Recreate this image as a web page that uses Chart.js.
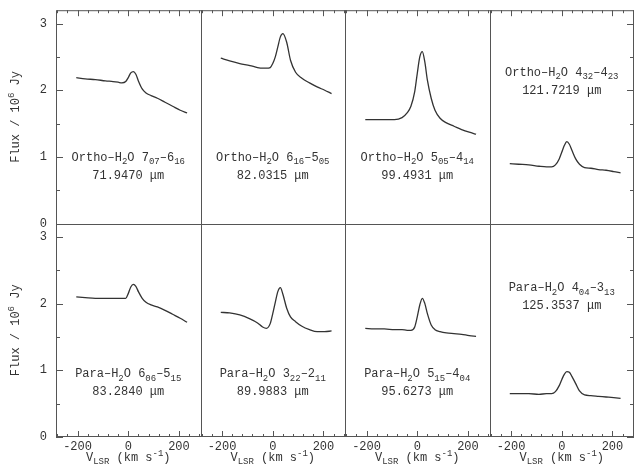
<!DOCTYPE html>
<html>
<head>
<meta charset="utf-8">
<script src="https://cdn.jsdelivr.net/npm/chart.js@4.4.1/dist/chart.umd.min.js"></script>
<style>
html, body { margin: 0; padding: 0; background: #fff; }
#wrap { width: 636px; height: 470px; }
</style>
</head>
<body>
<div id="wrap"><canvas id="profiles" width="636" height="470"></canvas></div>
<script>
// Velocity grid (km/s) shared by every line profile
const velocity = [-205, -170, -130, -90, -60, -40, -25, -10, 0, 10, 20, 30, 40, 55, 70, 90, 115, 145, 175, 205, 232];

// Flux / 10^6 Jy
const fluxO707 = [2.19, 2.17, 2.16, 2.14, 2.13, 2.12, 2.11, 2.13, 2.19, 2.26, 2.28, 2.24, 2.14, 2.02, 1.96, 1.92, 1.88, 1.82, 1.76, 1.70, 1.66];
const fluxO616 = [2.48, 2.44, 2.40, 2.37, 2.34, 2.33, 2.33, 2.34, 2.40, 2.50, 2.65, 2.80, 2.85, 2.72, 2.45, 2.27, 2.18, 2.11, 2.05, 2.00, 1.95];
const fluxO505 = [1.56, 1.56, 1.56, 1.56, 1.59, 1.66, 1.76, 1.98, 2.25, 2.50, 2.58, 2.42, 2.15, 1.88, 1.70, 1.58, 1.51, 1.46, 1.41, 1.37, 1.34];
const fluxO432 = [0.90, 0.89, 0.88, 0.86, 0.85, 0.85, 0.88, 0.97, 1.07, 1.17, 1.23, 1.19, 1.10, 0.97, 0.89, 0.84, 0.83, 0.81, 0.80, 0.78, 0.76];
const fluxP606 = [2.10, 2.09, 2.08, 2.08, 2.08, 2.08, 2.08, 2.08, 2.15, 2.25, 2.29, 2.26, 2.18, 2.08, 2.02, 1.98, 1.95, 1.90, 1.84, 1.78, 1.72];
const fluxP322 = [1.87, 1.86, 1.83, 1.77, 1.71, 1.65, 1.63, 1.70, 1.85, 2.02, 2.18, 2.24, 2.14, 1.93, 1.80, 1.73, 1.66, 1.61, 1.58, 1.58, 1.59];
const fluxP515 = [1.63, 1.62, 1.62, 1.61, 1.61, 1.60, 1.60, 1.65, 1.80, 1.98, 2.08, 2.00, 1.85, 1.68, 1.61, 1.58, 1.56, 1.55, 1.54, 1.52, 1.51];
const fluxP404 = [0.65, 0.65, 0.65, 0.64, 0.65, 0.65, 0.68, 0.77, 0.86, 0.94, 0.98, 0.97, 0.91, 0.80, 0.69, 0.63, 0.62, 0.61, 0.60, 0.59, 0.58];

// Line names (_{} subscript) and wavelengths
const lineNames = [
  'Ortho–H_{2}O 7_{07}–6_{16}', 'Ortho–H_{2}O 6_{16}–5_{05}', 'Ortho–H_{2}O 5_{05}–4_{14}', 'Ortho–H_{2}O 4_{32}–4_{23}',
  'Para–H_{2}O 6_{06}–5_{15}', 'Para–H_{2}O 3_{22}–2_{11}', 'Para–H_{2}O 5_{15}–4_{04}', 'Para–H_{2}O 4_{04}–3_{13}'
];
const wavelengths = ['71.9470 μm', '82.0315 μm', '99.4931 μm', '121.7219 μm', '83.2840 μm', '89.9883 μm', '95.6273 μm', '125.3537 μm'];
const fluxes = [fluxO707, fluxO616, fluxO505, fluxO432, fluxP606, fluxP322, fluxP515, fluxP404];

// Tick values
const velocityTicks = [-280, -240, -200, -160, -120, -80, -40, 0, 40, 80, 120, 160, 200, 240, 280];
const velocityLabels = [-200, 0, 200];
const fluxTicks = [0, 0.5, 1, 1.5, 2, 2.5, 3];

// Where the label pair sits in each panel (flux units of the first line)
const labelFlux = [0.98, 0.98, 0.98, 2.26, 0.94, 0.94, 0.94, 2.23];

const mono = '"Liberation Mono", "DejaVu Sans Mono", monospace';
const ink = '#333';
const fontSize = 12;

function drawRich(ctx, text, cx, cy, size) {
  const parts = [];
  const re = /([_^])\{([^}]*)\}|([^_^]+)/g;
  let m;
  while ((m = re.exec(text))) {
    if (m[3]) parts.push({ t: m[3], k: 0 });
    else parts.push({ t: m[2], k: m[1] === '_' ? 1 : 2 });
  }
  const fontFor = k => `${k ? Math.round(size * 0.72) : size}px ${mono}`;
  let w = 0;
  parts.forEach(p => { ctx.font = fontFor(p.k); p.w = ctx.measureText(p.t).width; w += p.w; });
  let x = cx - w / 2;
  ctx.textAlign = 'left';
  ctx.textBaseline = 'middle';
  parts.forEach(p => {
    ctx.font = fontFor(p.k);
    const dy = p.k === 1 ? size * 0.32 : p.k === 2 ? -size * 0.38 : 0;
    ctx.fillText(p.t, x, cy + dy);
    x += p.w;
  });
}

// Frame, inward ticks, panel labels and axis titles
const framePlugin = {
  id: 'frame',
  afterDraw(chart) {
    const { ctx, chartArea: a, scales } = chart;
    ctx.save();
    ctx.strokeStyle = '#555';
    ctx.lineWidth = 1;
    ctx.strokeRect(a.left + 0.5, a.top + 0.5, a.right - a.left - 1, a.bottom - a.top - 1);
    ctx.beginPath();
    for (let c = 1; c < 4; c++) {
      const x = Math.round(scales['x' + c].left) + 0.5;
      ctx.moveTo(x, a.top); ctx.lineTo(x, a.bottom);
    }
    const yMid = Math.round(scales.y0.bottom) + 0.5;
    ctx.moveTo(a.left, yMid); ctx.lineTo(a.right, yMid);
    ctx.stroke();

    // inward tick marks
    ctx.beginPath();
    for (let c = 0; c < 4; c++) {
      const s = scales['x' + c];
      velocityTicks.forEach(v => {
        const x = Math.round(s.getPixelForValue(v)) + 0.5;
        const len = velocityLabels.includes(v) ? 6 : 3;
        ctx.moveTo(x, a.top); ctx.lineTo(x, a.top + len);
        ctx.moveTo(x, a.bottom); ctx.lineTo(x, a.bottom - len);
      });
    }
    ['y0', 'y1'].forEach(id => {
      const s = scales[id];
      fluxTicks.forEach(v => {
        const y = Math.round(s.getPixelForValue(v)) + 0.5;
        const len = Number.isInteger(v) ? 7 : 4;
        ctx.moveTo(a.left, y); ctx.lineTo(a.left + len, y);
        ctx.moveTo(a.right, y); ctx.lineTo(a.right - len, y);
      });
    });
    ctx.stroke();

    // panel labels
    ctx.fillStyle = ink;
    for (let i = 0; i < 8; i++) {
      const xs = scales['x' + (i % 4)];
      const ys = scales['y' + Math.floor(i / 4)];
      const cx = xs.getPixelForValue(0);
      const cy = ys.getPixelForValue(labelFlux[i]);
      drawRich(ctx, lineNames[i], cx, cy, fontSize);
      drawRich(ctx, wavelengths[i], cx, cy + 18, fontSize);
    }

    // x titles
    for (let c = 0; c < 4; c++) {
      const xs = scales['x' + c];
      drawRich(ctx, 'V_{LSR} (km s^{-1})', xs.getPixelForValue(0), 458, fontSize);
    }
    // y titles
    ['y0', 'y1'].forEach(id => {
      const s = scales[id];
      ctx.save();
      ctx.translate(16, (s.top + s.bottom) / 2);
      ctx.rotate(-Math.PI / 2);
      drawRich(ctx, 'Flux / 10^{6} Jy', 0, 0, fontSize);
      ctx.restore();
    });
    ctx.restore();
  }
};

const scales = {};
for (let c = 0; c < 4; c++) {
  scales['x' + c] = {
    type: 'linear',
    position: 'bottom',
    stack: 'columns',
    stackWeight: 1,
    min: -285,
    max: 285,
    afterBuildTicks: s => { s.ticks = velocityTicks.map(v => ({ value: v })); },
    afterFit: s => { s.height = 33; },
    grid: { display: false, drawTicks: true, tickLength: 2 },
    border: { display: false },
    ticks: {
      autoSkip: false, maxRotation: 0, padding: 1, color: ink,
      font: { family: mono, size: fontSize },
      callback: v => velocityLabels.includes(v) ? String(v) : ''
    }
  };
}
['y1', 'y0'].forEach(id => {
  scales[id] = {
    type: 'linear',
    position: 'left',
    stack: 'rows',
    stackWeight: 1,
    min: 0,
    max: 3.2,
    afterBuildTicks: s => { s.ticks = fluxTicks.map(v => ({ value: v })); },
    afterFit: s => { s.width = 56; },
    grid: { display: false, drawTicks: true, tickLength: 6 },
    border: { display: false },
    ticks: {
      autoSkip: false, padding: 3, color: ink,
      font: { family: mono, size: fontSize },
      callback: v => Number.isInteger(v) ? String(v) : ''
    }
  };
});

const datasets = fluxes.map((flux, i) => ({
  label: lineNames[i],
  data: velocity.map((v, j) => ({ x: v, y: flux[j] })),
  xAxisID: 'x' + (i % 4),
  yAxisID: 'y' + Math.floor(i / 4),
  borderColor: '#333',
  borderWidth: 1.3,
  pointRadius: 0,
  cubicInterpolationMode: 'monotone',
  fill: false
}));

new Chart(document.getElementById('profiles'), {
  type: 'line',
  data: { datasets },
  options: {
    responsive: false,
    animation: false,
    layout: { padding: { top: 3, right: 2, left: 0, bottom: 0 } },
    plugins: { legend: { display: false }, tooltip: { enabled: false } },
    events: [],
    scales
  },
  plugins: [framePlugin]
});
</script>
</body>
</html>
